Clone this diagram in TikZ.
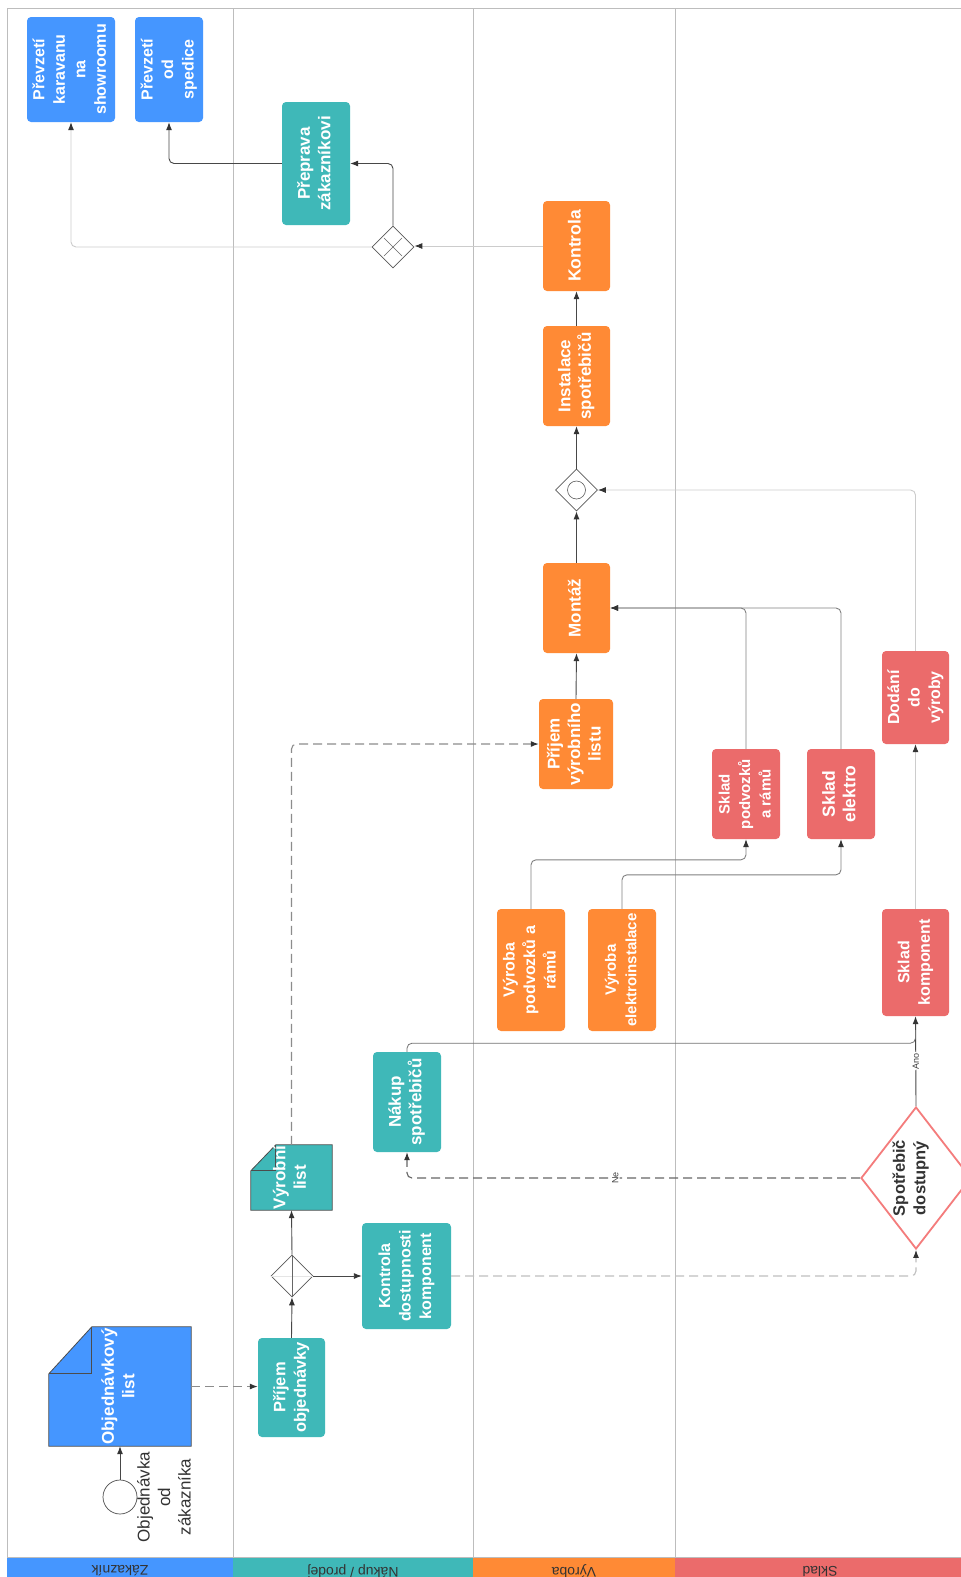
\documentclass[tikz,border=0pt]{standalone}
\usepackage{fontspec}
\setmainfont{Liberation Sans}
\usepackage{graphicx}
\usetikzlibrary{arrows.meta,shapes.geometric,backgrounds,calc}

\definecolor{cBlue}{HTML}{4596FF}
\definecolor{cTeal}{HTML}{3FB8B8}
\definecolor{cOrange}{HTML}{FF8A35}
\definecolor{cRed}{HTML}{EB6B6B}
\definecolor{cRedLine}{HTML}{F47C7C}
\definecolor{cLane}{HTML}{BDBDBD}
\definecolor{cInk}{HTML}{333333}

% vertical (bottom-to-top) multi-line label
\newcommand\vt[2][17]{\rotatebox{90}{\fontsize{#1}{20.5}\selectfont\begin{tabular}{@{}c@{}}#2\end{tabular}}}

\begin{document}
\begin{tikzpicture}[x=1pt,y=-1pt,
  task/.style={rectangle, rounded corners=4, inner sep=0, text=white, font=\bfseries},
  docnode/.style={rectangle, inner sep=0, text=white, font=\bfseries},
  gate/.style={diamond, draw=black!65, line width=0.7, inner sep=0, minimum width=42, minimum height=42, fill=white},
  tip/.style={-{Latex[length=8,width=6,color=cInk]}},
  flow/.style={draw=cInk!90, line width=0.9, rounded corners=5, tip},
  mid/.style={flow, draw=black!50},
  light/.style={flow, draw=black!20},
  plain/.style={draw=black!55, line width=0.8, rounded corners=5},
  msg/.style={draw=black!45, line width=1.1, dash pattern=on 9pt off 5pt, rounded corners=5, tip},
  msglight/.style={msg, draw=black!25},
  msgdark/.style={msg, draw=black!60},
  lbl/.style={rotate=90, fill=white, inner sep=1, text=black!75, font=\fontsize{9}{10}\selectfont},
  head/.style={rotate=180, text=cInk, font=\fontsize{14}{15}\selectfont}
]
\useasboundingbox (0,0) rectangle (961,1577);
\clip (0,0) rectangle (961,1577);

% ---- lanes ----
\fill[cBlue]   (7,1557) rectangle (233,1577);
\fill[cTeal]   (233,1557) rectangle (473,1577);
\fill[cOrange] (473,1557) rectangle (675,1577);
\fill[cRed]    (675,1557) rectangle (961,1577);
\draw[cLane, line width=1] (7,1557) -- (7,8) -- (961,8);
\draw[cLane, line width=1] (7,1557) -- (961,1557);
\foreach \lx in {233,473,675} \draw[cLane, line width=1] (\lx,8) -- (\lx,1557);
\node[head] (hZ) at (120,1571) {Zákazník};
\node[head] (hN) at (353,1571) {Nákup / prodej};
\node[head] (hV) at (574,1571) {Výroba};
\node[head] (hS) at (820,1571) {Sklad};

% ---- customer lane ----
\node[circle, draw=black!70, line width=0.7, minimum size=34, inner sep=0] (start) at (120,1497) {};
\node[text=cInk] (startlbl) at (166,1497) {\vt{Objednávka\\od\\zákazníka}};
\node[docnode, minimum width=142, minimum height=119] (objlist) at (120,1386.5) {\vt{Objednávkový\\list}};
\node[task, fill=cBlue, minimum width=68, minimum height=105] (sped) at (169,69.5) {\vt[16]{Převzetí\\od\\spedice}};
\node[task, fill=cBlue, minimum width=88, minimum height=105] (karav) at (71,69.5) {\vt[16]{Převzetí\\karavanu\\na\\showroomu}};

% ---- purchasing / sales lane ----
\node[task, fill=cTeal, minimum width=67, minimum height=99] (prijem) at (291.5,1387.5) {\vt[16.5]{Příjem\\objednávky}};
\node[gate] (gw1) at (292,1276) {};
\draw[black!10, line width=0.6] (gw1.west) -- (gw1.east);
\draw[black!60, line width=0.6] (gw1.south) -- (gw1.north);
\node[docnode, minimum width=81, minimum height=65] (vlist) at (291.5,1177.5) {\vt{Výrobní\\list}};
\node[task, fill=cTeal, minimum width=89, minimum height=106] (kdk) at (406.5,1276) {\vt[16]{Kontrola\\dostupnosti\\komponent}};
\node[task, fill=cTeal, minimum width=68, minimum height=100] (nakup) at (407,1102) {\vt{Nákup\\spotřebičů}};
\node[task, fill=cTeal, minimum width=68, minimum height=123] (prepr) at (316,163.5) {\vt{Přeprava\\zákazníkovi}};
\node[gate] (gw3) at (393,247) {};
\draw[black!60, line width=0.6] ($(gw3.center)+(-9,-9)$) -- ($(gw3.center)+(9,9)$);
\draw[black!60, line width=0.6] ($(gw3.center)+(-9,9)$) -- ($(gw3.center)+(9,-9)$);

% ---- production lane ----
\node[task, fill=cOrange, minimum width=68, minimum height=122] (vyrP) at (531,970) {\vt[16]{Výroba\\podvozků a\\rámů}};
\node[task, fill=cOrange, minimum width=68, minimum height=122] (vyrE) at (622,970) {\vt[15]{Výroba\\elektroinstalace}};
\node[task, fill=cOrange, minimum width=74, minimum height=90] (prijemVL) at (576,744) {\vt{Příjem\\výrobního\\listu}};
\node[task, fill=cOrange, minimum width=67, minimum height=90] (montaz) at (576.5,608) {\vt{Montáž}};
\node[gate] (gw2) at (576.5,490) {};
\draw[black!65, line width=0.6] (gw2.center) circle (9);
\node[task, fill=cOrange, minimum width=67, minimum height=100] (instalace) at (576.5,376) {\vt{Instalace\\spotřebičů}};
\node[task, fill=cOrange, minimum width=67, minimum height=90] (kontrola) at (576.5,246) {\vt[17.5]{Kontrola}};

% ---- warehouse lane ----
\node[task, fill=cRed, minimum width=68, minimum height=90] (skladP) at (746,794) {\vt[15]{Sklad\\podvozků\\a rámů}};
\node[task, fill=cRed, minimum width=68, minimum height=90] (skladE) at (841,794) {\vt[17.5]{Sklad\\elektro}};
\node[task, fill=cRed, minimum width=67, minimum height=93] (dodani) at (915.5,697.5) {\vt[16]{Dodání\\do\\výroby}};
\node[task, fill=cRed, minimum width=67, minimum height=107] (skladK) at (915.5,962.5) {\vt[16]{Sklad\\komponent}};
\node[diamond, draw=cRedLine, line width=1.8, fill=white, minimum width=110, minimum height=142, inner sep=0] (spot) at (916,1178) {};
\node[text=cInk, font=\bfseries] (spottxt) at ([xshift=-5]spot.center) {\vt[16.5]{Spotřebič\\dostupný}};

% ---- document shapes with folded corner ----
\begin{scope}[on background layer]
  \fill[white] (0,0) rectangle (961,1577);
  \filldraw[fill=cBlue, draw=black!70, line width=0.8]
    ($(objlist.north west)+(43,0)$) -- (objlist.north east) -- (objlist.south east)
    -- (objlist.south west) -- ($(objlist.north west)+(0,47)$) -- cycle;
  \draw[black!70, line width=0.8]
    ($(objlist.north west)+(43,0)$) -- ++(0,47) -- ($(objlist.north west)+(0,47)$);
  \filldraw[fill=cTeal, draw=black!70, line width=0.8]
    ($(vlist.north west)+(25,0)$) -- (vlist.north east) -- (vlist.south east)
    -- (vlist.south west) -- ($(vlist.north west)+(0,26)$) -- cycle;
  \draw[black!70, line width=0.8]
    ($(vlist.north west)+(25,0)$) -- ++(0,26) -- ($(vlist.north west)+(0,26)$);
\end{scope}

% ---- connectors ----
\draw[flow] (start.north) -- (objlist.south);
\draw[msg] (objlist.east) -- (objlist.east -| prijem.west);
\draw[flow] (prijem.north) -- (gw1.south);
\draw[flow] (gw1.north) -- (vlist.south);
\draw[flow] (gw1.east) -- (kdk.west);
\draw[msglight] (kdk.east) -| (spot.south);
\draw[msgdark] (spot.west) -| node[lbl, pos=0.27] (ne) {Ne} (nakup.south);
\draw[flow] (spot.north) -- node[lbl, pos=0.5] (ano) {Ano} (skladK.south);
\draw[plain] (nakup.north) |- ($(skladK.south)+(0,27)$) -- ($(skladK.south)+(0,14)$);
\draw[msg] (vlist.north) |- (prijemVL.west);
\draw[flow] (prijemVL.north) -- (montaz.south);
\draw[mid] (vyrP.north) -- ++(0,-49) -| (skladP.south);
\draw[mid] (vyrE.north) -- ++(0,-34) -| (skladE.south);
\draw[mid] (skladP.north) |- (montaz.east);
\draw[mid] (skladE.north) |- (montaz.east);
\draw[light] (skladK.north) -- (dodani.south);
\draw[light] (dodani.north) |- (gw2.east);
\draw[flow] (montaz.north) -- (gw2.south);
\draw[flow] (gw2.north) -- (instalace.south);
\draw[flow] (instalace.north) -- (kontrola.south);
\draw[light] (kontrola.west) -- (kontrola.west -| gw3.east);
\draw[flow] (gw3.north) |- (prepr.east);
\draw[flow] (prepr.west) -| (sped.south);
\draw[light] (gw3.west) -| (karav.south);
\end{tikzpicture}
\end{document}
